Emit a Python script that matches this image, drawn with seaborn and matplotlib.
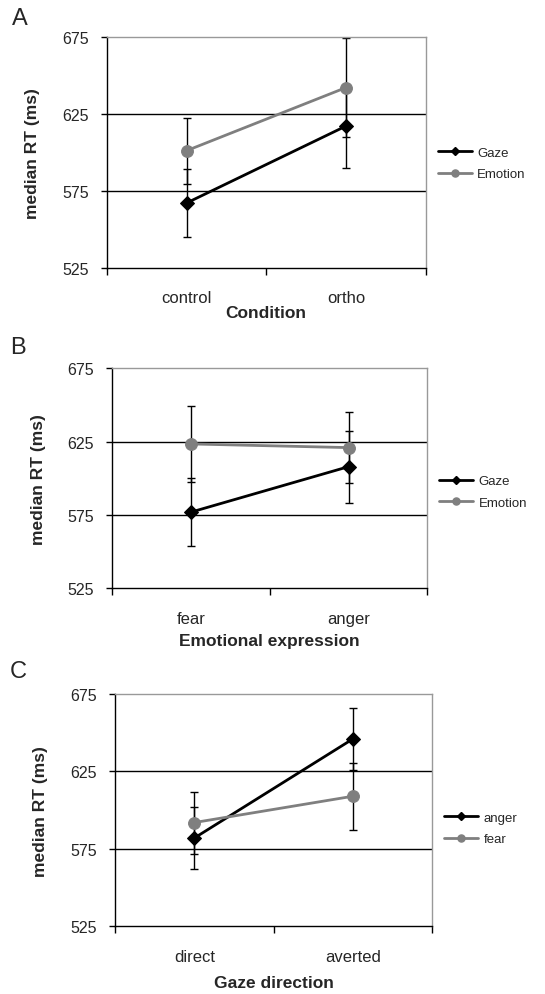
import numpy as np
import pandas as pd
import seaborn as sns
import matplotlib.pyplot as plt
from matplotlib.lines import Line2D

sns.set_style('white')
plt.rcParams['font.family'] = ['Liberation Sans', 'DejaVu Sans']

# --- values (median RT in ms, +/- error) ---
COND_A = ['control', 'ortho']
GAZE_A = [567, 617]
GAZE_A_ERR = [22, 27]
EMO_A = [601, 642]
EMO_A_ERR = [21.5, 32]

EXPR_B = ['fear', 'anger']
GAZE_B = [577, 608]
GAZE_B_ERR = [23, 24.5]
EMO_B = [623.5, 621]
EMO_B_ERR = [26, 24]

DIR_C = ['direct', 'averted']
ANGER_C = [582, 646]
ANGER_C_ERR = [20, 20]
FEAR_C = [592, 609]
FEAR_C_ERR = [20, 21.5]

YTICKS = [525, 575, 625, 675]
GRAY = '#7f7f7f'


def draw_panel(ax, cats, series, xlabel):
    # long-form table for seaborn; categories sit in the middle of each band
    rows = []
    for name, vals, errs in series:
        for i, (v, e) in enumerate(zip(vals, errs)):
            rows.append({'cat': cats[i], 'pos': i + 0.5, 'series': name, 'rt': v, 'err': e})
    df = pd.DataFrame(rows)

    styles = [('black', 'D', 7), (GRAY, 'o', 8.5)]
    handles = []
    for (name, _, _), (col, mk, ms) in zip(series, styles):
        sub = df[df['series'] == name]
        ax.errorbar(sub['pos'], sub['rt'], yerr=sub['err'], fmt='none',
                    ecolor='black', elinewidth=1, capsize=3, capthick=1, zorder=2)
        sns.lineplot(data=sub, x='pos', y='rt', color=col, marker=mk, markersize=ms,
                     markeredgecolor=col, linewidth=2, ax=ax, legend=False, zorder=3)
        handles.append(Line2D([], [], color=col, marker=mk, markersize=ms * 0.6,
                              markeredgecolor=col, linewidth=2, label=name))

    for y in YTICKS[1:-1]:
        ax.axhline(y, color='black', linewidth=1, zorder=1)

    ax.set_xlim(0, 2)
    ax.set_ylim(YTICKS[0], YTICKS[-1])
    ax.set_yticks(YTICKS)
    ax.set_xticks([0, 1, 2])
    ax.set_xticklabels([])
    ax.set_xticks([0.5, 1.5], minor=True)
    ax.set_xticklabels(cats, minor=True, fontsize=12)
    ax.tick_params(axis='x', which='major', direction='out', length=5, width=1, color='black', bottom=True)
    ax.tick_params(axis='x', which='minor', length=0, pad=16)
    ax.tick_params(axis='y', direction='out', length=4, width=1, color='black', left=True,
                   labelsize=11.5, pad=9)

    for s in ['left', 'bottom']:
        ax.spines[s].set_color('black')
        ax.spines[s].set_linewidth(1)
    for s in ['top', 'right']:
        ax.spines[s].set_color('#999999')
        ax.spines[s].set_linewidth(1)

    ax.set_ylabel('median RT (ms)', fontsize=12.5, fontweight='bold')
    ax.set_xlabel(xlabel, fontsize=12.5, fontweight='bold', va='top')
    ax.yaxis.set_label_coords(-0.21, 0.5)
    return handles


fig = plt.figure(figsize=(5.45, 9.95), dpi=100)

panels = [
    ([0.196, 0.730, 0.585, 0.232], COND_A,
     [('Gaze', GAZE_A, GAZE_A_ERR), ('Emotion', EMO_A, EMO_A_ERR)],
     'Condition', 'A', 0.451, -0.16, (20, 19)),
    ([0.206, 0.4077, 0.578, 0.221], EXPR_B,
     [('Gaze', GAZE_B, GAZE_B_ERR), ('Emotion', EMO_B, EMO_B_ERR)],
     'Emotional expression', 'B', 0.438, -0.205, (18, 348)),
    ([0.211, 0.068, 0.582, 0.2335], DIR_C,
     [('anger', ANGER_C, ANGER_C_ERR), ('fear', FEAR_C, FEAR_C_ERR)],
     'Gaze direction', 'C', 0.422, -0.21, (18, 672)),
]

for rect, cats, series, xlabel, letter, ly, xl_y, (lx, lyp) in panels:
    ax = fig.add_axes(rect)
    handles = draw_panel(ax, cats, series, xlabel)
    ax.xaxis.set_label_coords(0.5, xl_y)
    ax.legend(handles=handles, loc='center left', bbox_to_anchor=(1.0, ly),
              frameon=False, fontsize=9.5, handlelength=2.6, handletextpad=0.4,
              borderaxespad=0.5, labelspacing=0.7)
    fig.text(lx / 545, 1 - lyp / 995, letter, fontsize=17, ha='center', va='center')

fig.savefig('out.png', dpi=100)
